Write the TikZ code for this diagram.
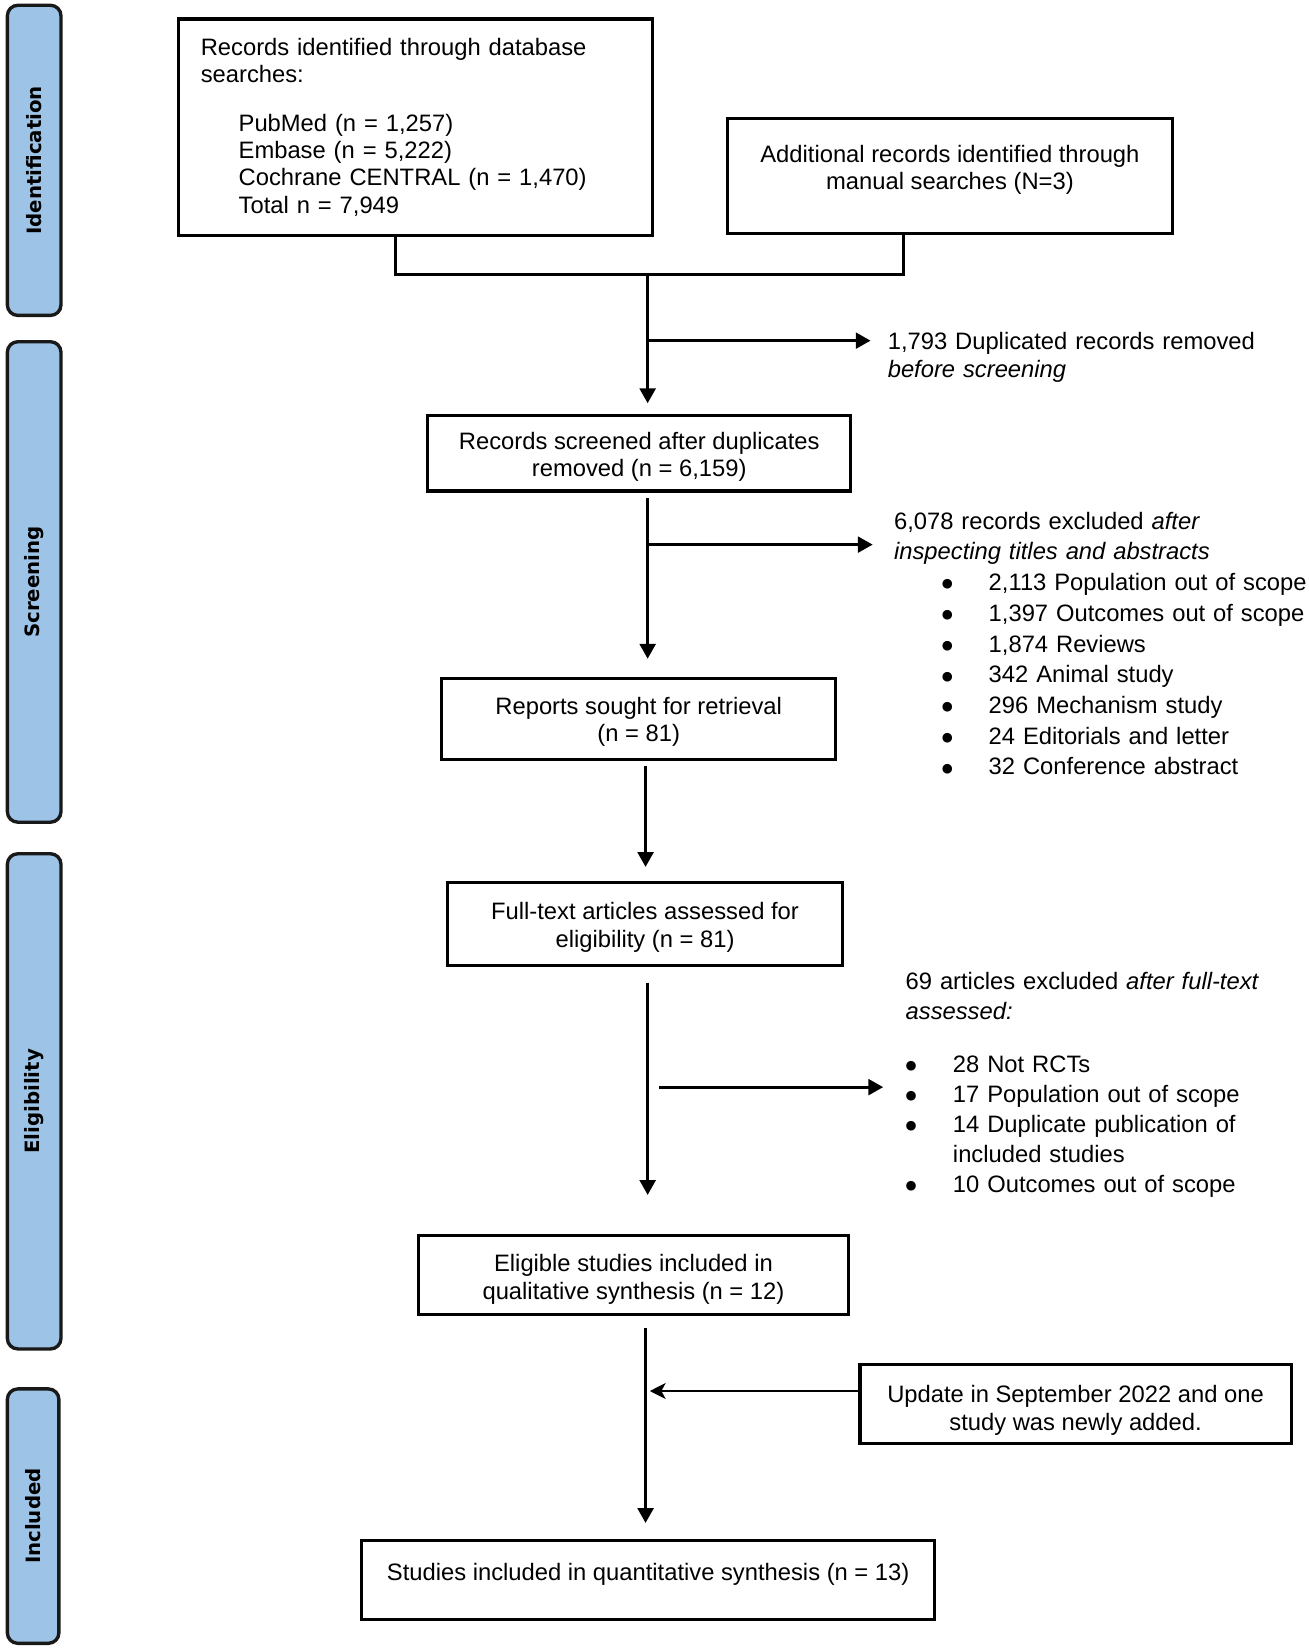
\documentclass[tikz,border=0pt]{standalone}
\usepackage{fontspec}
\setmainfont{Liberation Sans}
\newfontfamily\barfont{DejaVu Sans}
\usetikzlibrary{arrows.meta}
\definecolor{barblue}{HTML}{9DC3E6}
\newcommand\padbelow[1]{\rule[-#1]{0pt}{#1}}
\newcommand\padabove[1]{\rule{0pt}{#1}}
\newcommand\bul{\raisebox{1.3pt}{\barfont\fontsize{6}{6}\selectfont ●}}
\begin{document}
\begin{tikzpicture}[x=0.5pt,y=-0.5pt,
  box/.style={draw=black, line width=1.5pt, inner sep=0pt, align=center,
    font=\fontsize{11.3}{13}\selectfont},
  bar/.style={draw=black!90, line width=1.6pt, fill=barblue, rounded corners=5pt,
    rotate=90, inner sep=0pt, minimum height=25.5pt,
    font=\barfont\bfseries\fontsize{9.4}{11}\selectfont},
  note/.style={inner sep=0pt, anchor=north west, align=left},
  conn/.style={line width=1.3pt},
  arr/.style={conn, -{Triangle[length=7pt,width=7.5pt]}},
  arrL/.style={conn, -{Stealth[length=7.5pt,width=7.5pt,inset=2pt]}}]
\useasboundingbox (0,0) rectangle (1245,1570.3);

% phase bars
\node[bar, minimum width=147.5pt] (barI) at (32.5,152.5) {Identification};
\node[bar, minimum width=228.5pt] (barS) at (32.5,553.5) {Screening};
\node[bar, minimum width=235.5pt] (barE) at (32.5,1047.5) {Eligibility};
\node[bar, minimum width=121pt, minimum height=24.5pt] (barN) at (31.5,1442) {Included};

% boxes
\node[box, minimum width=225.5pt, minimum height=103pt, text width=204.5pt, align=left]
  (A) at (395.5,121) {Records identified through database\\
  searches:\\[10pt]
  \hspace*{18pt}PubMed (n = 1,257)\\
  \hspace*{18pt}Embase (n = 5,222)\\
  \hspace*{18pt}Cochrane CENTRAL (n = 1,470)\\
  \hspace*{18pt}Total n = 7,949};
\node[box, minimum width=211.5pt, minimum height=54.5pt] (B) at (903.5,167.5)
  {\padabove{10.2pt}Additional records identified through\\manual searches (N=3)\padbelow{10.4pt}};
\node[box, minimum width=201pt, minimum height=36pt] (C) at (608,431)
  {\padabove{11.8pt}Records screened after duplicates\\removed (n = 6,159)};
\node[box, minimum width=187.5pt, minimum height=38.5pt] (D) at (607.5,683.5)
  {\padabove{11.5pt}Reports sought for retrieval\\(n = 81)};
\node[box, minimum width=187.5pt, minimum height=39.5pt] (E) at (613.5,878.5)
  {\padabove{11.8pt}Full-text articles assessed for\\eligibility (n = 81)};
\node[box, minimum width=204.5pt, minimum height=37.5pt] (F) at (602.5,1212.5)
  {\padabove{12.5pt}Eligible studies included in\\qualitative synthesis (n = 12)};
\node[box, minimum width=205pt, minimum height=37.5pt] (H) at (1023,1335.5)
  {\padabove{14.2pt}Update in September 2022 and one\\study was newly added.};
\node[box, minimum width=272.5pt, minimum height=37.5pt] (G) at (616.5,1502.5)
  {Studies included in quantitative synthesis (n = 13)\padbelow{7.9pt}};

% exclusion notes
\node[note, text width=185pt, font=\fontsize{11.3}{13.5}\selectfont] (dup) at (844,315.6)
  {1,793 Duplicated records removed\\\textit{before screening}};
\node[note, text width=215pt, font=\fontsize{11.3}{14.6}\selectfont] (scr) at (850,486.6)
  {6,078 records excluded \textit{after}\\
  \textit{inspecting titles and abstracts}\\
  \hspace*{22.7pt}\makebox[22.3pt][l]{\bul}2,113 Population out of scope\\
  \hspace*{22.7pt}\makebox[22.3pt][l]{\bul}1,397 Outcomes out of scope\\
  \hspace*{22.7pt}\makebox[22.3pt][l]{\bul}1,874 Reviews\\
  \hspace*{22.7pt}\makebox[22.3pt][l]{\bul}342 Animal study\\
  \hspace*{22.7pt}\makebox[22.3pt][l]{\bul}296 Mechanism study\\
  \hspace*{22.7pt}\makebox[22.3pt][l]{\bul}24 Editorials and letter\\
  \hspace*{22.7pt}\makebox[22.3pt][l]{\bul}32 Conference abstract};
\node[note, text width=190pt, font=\fontsize{11.3}{14.2}\selectfont] (el) at (861,924.6)
  {69 articles excluded \textit{after full-text}\\
  \textit{assessed:}\\[11pt]
  \hspace*{0pt}\makebox[22.5pt][l]{\bul}28 Not RCTs\\
  \hspace*{0pt}\makebox[22.5pt][l]{\bul}17 Population out of scope\\
  \hspace*{0pt}\makebox[22.5pt][l]{\bul}14 Duplicate publication of\\
  \hspace*{22.5pt}included studies\\
  \hspace*{0pt}\makebox[22.5pt][l]{\bul}10 Outcomes out of scope};

% connectors
\coordinate (jA) at (376,261);
\coordinate (jB) at (859,261);
\coordinate (jC) at (616,261);
\coordinate (bDup) at (616,324);
\coordinate (bScr) at (616,518);
\coordinate (c614) at (614,0);
\coordinate (c616) at (616,0);
\coordinate (bEl) at (627,1034);
\coordinate (tH) at (618,1323);

\draw[conn] (A.south -| jA) -- (jA) -- (jB) -- (B.south -| jB);
\draw[arr, shorten >=5pt] (jC) -- (C.north -| jC);
\draw[arr, shorten >=8pt] (bDup) -- (bDup -| dup.west);
\draw[arr, shorten <=2.5pt, shorten >=8.5pt] (C.south -| c616) -- (D.north -| c616);
\draw[arr, shorten >=10pt] (bScr) -- (bScr -| scr.west);
\draw[arr, shorten <=2.5pt, shorten >=6.5pt] (D.south -| c614) -- (E.north -| c614);
\draw[arr, shorten <=7.5pt, shorten >=18.5pt] (E.south -| c616) -- (F.north -| c616);
\draw[arr, shorten >=10.5pt] (bEl) -- (bEl -| el.west);
\draw[arr, shorten <=6pt, shorten >=7.5pt] (F.south -| c614) -- (G.north -| c614);
\draw[arrL] (H.west |- tH) -- (tH);
\end{tikzpicture}
\end{document}
